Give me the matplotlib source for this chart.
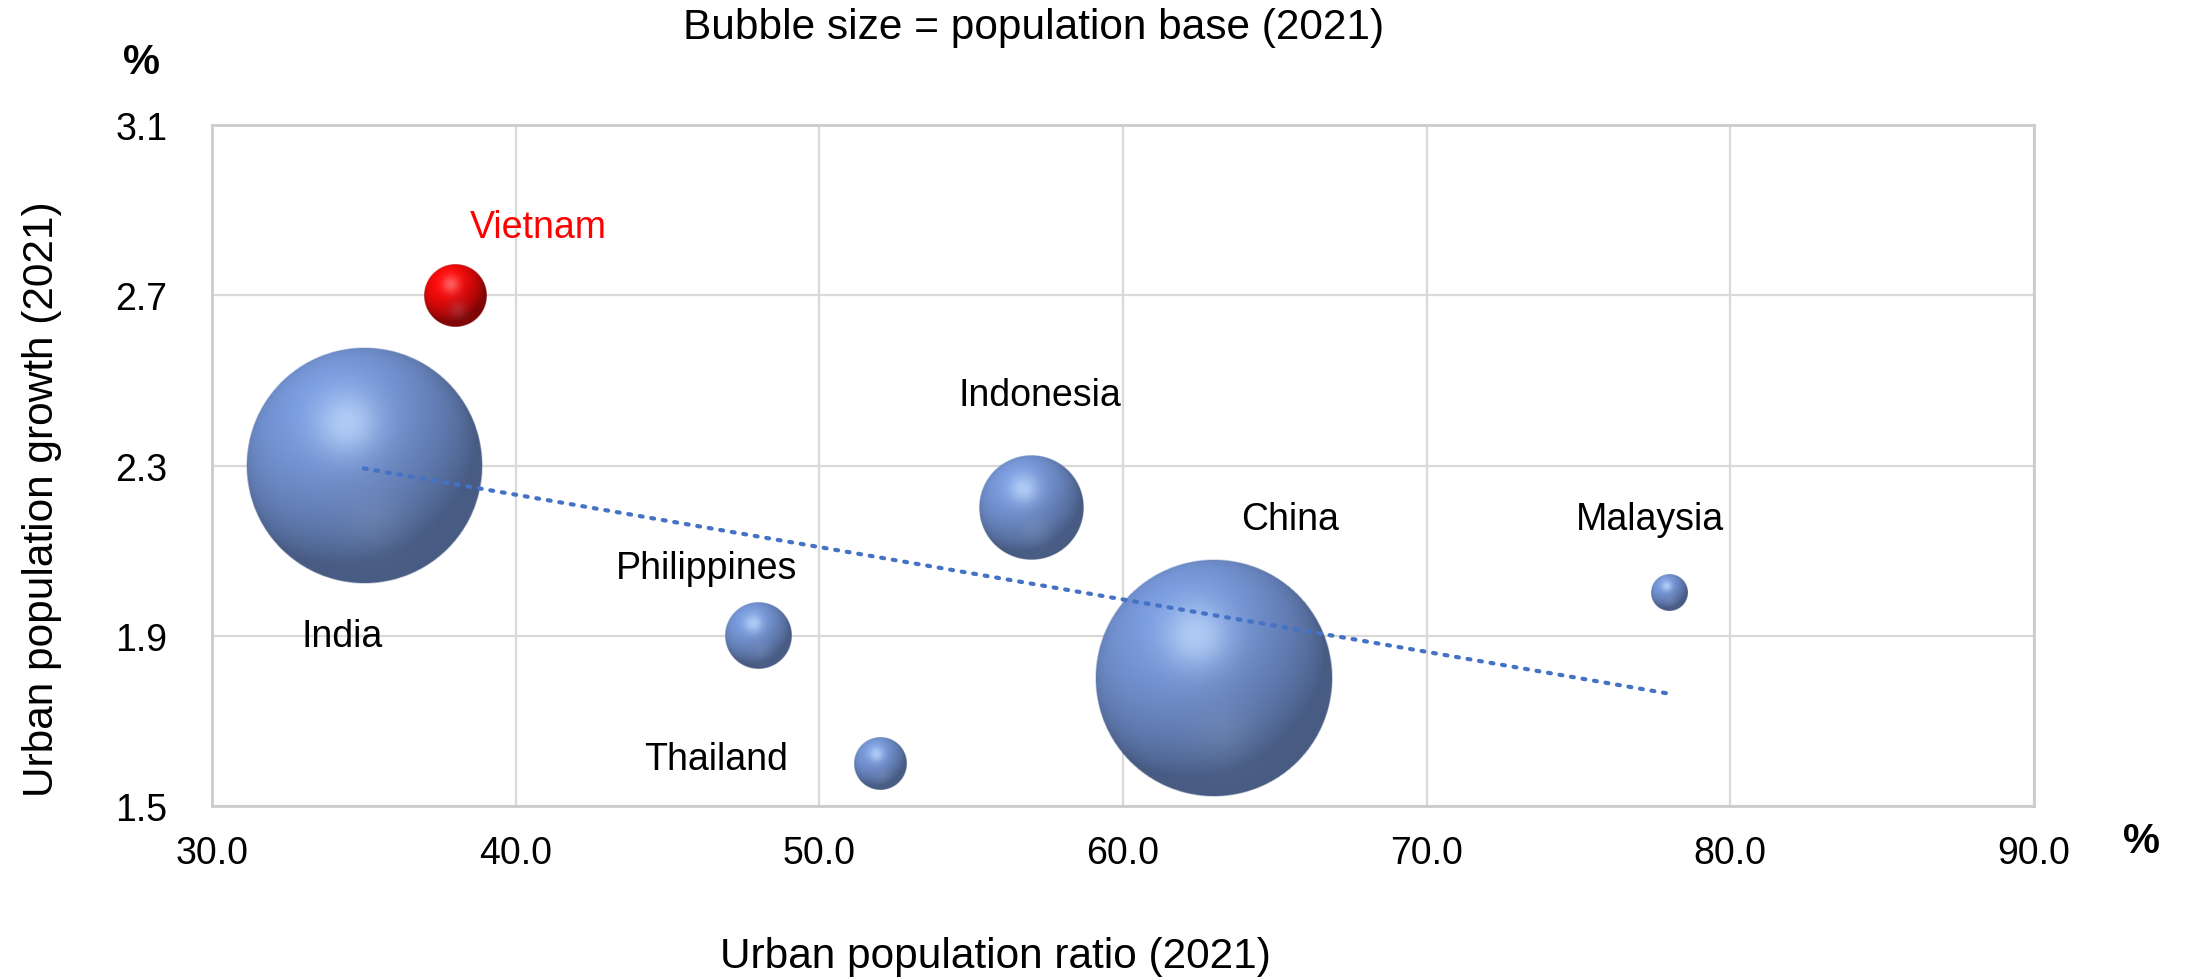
import numpy as np
import matplotlib
matplotlib.use("Agg")
from matplotlib import pyplot as plt

plt.rcParams['font.family'] = ['Liberation Sans', 'DejaVu Sans']

# data
countries = ["India", "Vietnam", "Indonesia", "Philippines", "Thailand", "China", "Malaysia"]
urban_ratio = [35.0, 38.0, 57.0, 48.0, 52.0, 63.0, 78.0]
urban_growth = [2.3, 2.7, 2.2, 1.9, 1.6, 1.8, 2.0]
population = [1393, 98, 274, 111, 70, 1412, 33]   # million, 2021
highlight = "Vietnam"

x_ticks = [30.0, 40.0, 50.0, 60.0, 70.0, 80.0, 90.0]
y_ticks = [1.5, 1.9, 2.3, 2.7, 3.1]

# label positions (data coords)
label_pos = {
    "India": (34.3, 1.90),
    "Vietnam": (40.75, 2.86),
    "Indonesia": (57.25, 2.465),
    "Philippines": (46.3, 2.06),
    "Thailand": (46.6, 1.61),
    "China": (65.5, 2.175),
    "Malaysia": (77.35, 2.175),
}

W, H, DPI = 21.9, 9.79, 100
fig = plt.figure(figsize=(W, H), dpi=DPI)
ax_l, ax_r, ax_t, ax_b = 212, 2034, 126, 807
ax = fig.add_axes([ax_l / 2190, 1 - ax_b / 979, (ax_r - ax_l) / 2190, (ax_b - ax_t) / 979])

ax.set_xlim(30, 90)
ax.set_ylim(1.5, 3.1)
ax.set_xticks(x_ticks)
ax.set_yticks(y_ticks)
ax.set_xticklabels([f"{v:.1f}" for v in x_ticks])
ax.set_yticklabels([f"{v:.1f}" for v in y_ticks])
ax.tick_params(length=0, labelsize=27, pad=0)
ax.tick_params(axis='x', pad=21)
ax.tick_params(axis='y', pad=32)
ax.grid(True, color='#d9d9d9', linewidth=1.6)
ax.set_axisbelow(True)
for s in ax.spines.values():
    s.set_color('#cccccc')
    s.set_linewidth(2)


def sphere(base, light, dark_scale=0.6, n=300):
    u = np.linspace(-1, 1, n)
    U, V = np.meshgrid(u, -u)
    r2 = U ** 2 + V ** 2
    Z = np.sqrt(np.clip(1 - r2, 0, 1))
    L = np.array([-0.35, 0.55, 0.75])
    L = L / np.linalg.norm(L)
    d = np.clip(U * L[0] + V * L[1] + Z * L[2], 0, 1)
    shade = dark_scale + (1.02 - dark_scale) * d
    rgb = np.array(base)[None, None, :] * shade[..., None]
    h = np.exp(-((U + 0.15) ** 2 + (V - 0.36) ** 2) / (2 * 0.2 ** 2)) * 0.7
    rgb = rgb * (1 - h[..., None]) + np.array(light)[None, None, :] * h[..., None]
    h2 = np.exp(-((U - 0.08) ** 2 + (V + 0.45) ** 2) / (2 * 0.2 ** 2)) * 0.18
    rgb = rgb * (1 - h2[..., None]) + np.array([0.62, 0.68, 0.8])[None, None, :] * h2[..., None]
    alpha = np.clip((1 - np.sqrt(r2)) * n / 2, 0, 1)
    return np.dstack([np.clip(rgb, 0, 1), alpha])


blue_img = sphere((0.47, 0.60, 0.86), (0.78, 0.88, 1.0))
red_img = sphere((1.0, 0.04, 0.04), (1.0, 0.5, 0.5), dark_scale=0.5)

px_per_x = (ax_r - ax_l) / 60.0
px_per_y = (ax_b - ax_t) / 1.6
r_max_px = 119
pmax = max(population)

# bigger bubbles first so small ones stay on top
order = np.argsort(population)[::-1]
for i in order:
    r_px = r_max_px * np.sqrt(population[i] / pmax)
    rx = r_px / px_per_x
    ry = r_px / px_per_y
    img = red_img if countries[i] == highlight else blue_img
    ax.imshow(img, extent=[urban_ratio[i] - rx, urban_ratio[i] + rx,
                           urban_growth[i] - ry, urban_growth[i] + ry],
              aspect='auto', interpolation='bilinear', zorder=3)

ax.set_xlim(30, 90)
ax.set_ylim(1.5, 3.1)

# linear trendline
k, b = np.polyfit(urban_ratio, urban_growth, 1)
tx = np.array([min(urban_ratio), max(urban_ratio)])
ax.plot(tx, k * tx + b, linestyle=(0, (0.7, 2.1)), color='#4472c4',
        linewidth=3, dash_capstyle='round', zorder=4)

for c in countries:
    lx, ly = label_pos[c]
    ax.text(lx, ly, c, fontsize=27, ha='center', va='center', zorder=5,
            color='red' if c == highlight else 'black')

fig.text(1034 / 2190, 1 - 28 / 979, "Bubble size = population base (2021)",
         fontsize=30.5, ha='center', va='center')
fig.text(995 / 2190, 1 - 957 / 979, "Urban population ratio (2021)",
         fontsize=30.5, ha='center', va='center')
fig.text(42 / 2190, 1 - 499 / 979, "Urban population growth (2021)",
         fontsize=30.5, ha='center', va='center', rotation=90)
fig.text(141 / 2190, 1 - 63 / 979, "%", fontsize=30, fontweight='bold',
         ha='center', va='center')
fig.text(2141 / 2190, 1 - 842 / 979, "%", fontsize=30, fontweight='bold',
         ha='center', va='center')

fig.savefig("out.png", dpi=DPI)
